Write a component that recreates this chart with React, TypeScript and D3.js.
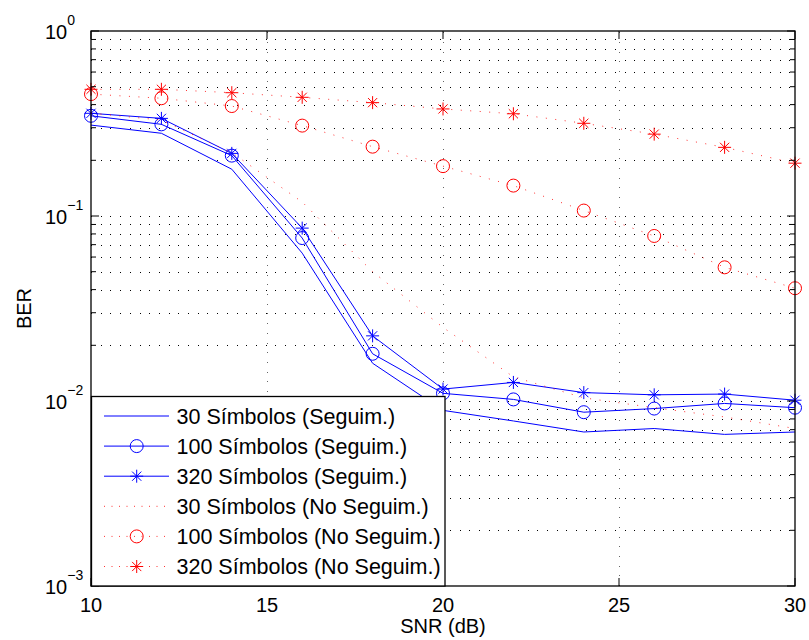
import React from "react";
import * as d3 from "d3";

const snr = [10, 12, 14, 16, 18, 20, 22, 24, 26, 28, 30];
const ber30Seg = [0.31, 0.28, 0.179, 0.063, 0.016, 0.0089, 0.0078, 0.0068, 0.0071, 0.0066, 0.0068];
const ber100Seg = [0.348, 0.313, 0.212, 0.076, 0.018, 0.011, 0.0102, 0.0087, 0.0091, 0.0097, 0.0092];
const ber320Seg = [0.359, 0.337, 0.218, 0.086, 0.0225, 0.0116, 0.0126, 0.0111, 0.0108, 0.0109, 0.0101];
const ber30No = [0.36, 0.33, 0.22, 0.119, 0.05, 0.025, 0.0135, 0.0104, 0.0092, 0.0082, 0.0071];
const ber100No = [0.456, 0.433, 0.393, 0.308, 0.237, 0.186, 0.146, 0.107, 0.078, 0.0528, 0.0407];
const ber320No = [0.484, 0.484, 0.464, 0.438, 0.41, 0.379, 0.357, 0.317, 0.277, 0.235, 0.193];

const legendLabels = [
  "30 Símbolos (Seguim.)",
  "100 Símbolos (Seguim.)",
  "320 Símbolos (Seguim.)",
  "30 Símbolos (No Seguim.)",
  "100 Símbolos (No Seguim.)",
  "320 Símbolos (No Seguim.)",
];
const xTicks = [10, 15, 20, 25, 30];
const yDecades = [-3, -2, -1, 0];

type Marker = "none" | "circle" | "star";
const seriesDefs: { data: number[]; color: string; dotted: boolean; marker: Marker }[] = [
  { data: ber30Seg, color: "#0000ff", dotted: false, marker: "none" },
  { data: ber100Seg, color: "#0000ff", dotted: false, marker: "circle" },
  { data: ber320Seg, color: "#0000ff", dotted: false, marker: "star" },
  { data: ber30No, color: "#ff0000", dotted: true, marker: "none" },
  { data: ber100No, color: "#ff0000", dotted: true, marker: "circle" },
  { data: ber320No, color: "#ff0000", dotted: true, marker: "star" },
];

const L = 91, R = 795, T = 31, B = 586;
const FONT = "'Liberation Sans', Arial, Helvetica, sans-serif";

function MarkerShape({ type, x, y, color }: { type: Marker; x: number; y: number; color: string }) {
  if (type === "circle") return <circle cx={x} cy={y} r={6.5} fill="none" stroke={color} strokeWidth={1} />;
  if (type === "star") {
    const r = 6.5, d = 4.6;
    return (
      <g stroke={color} strokeWidth={1}>
        <line x1={x - r} y1={y} x2={x + r} y2={y} />
        <line x1={x} y1={y - r} x2={x} y2={y + r} />
        <line x1={x - d} y1={y - d} x2={x + d} y2={y + d} />
        <line x1={x - d} y1={y + d} x2={x + d} y2={y - d} />
      </g>
    );
  }
  return null;
}

export default function App() {
  const x = d3.scaleLinear().domain([10, 30]).range([L, R]);
  const y = d3.scaleLog().domain([1e-3, 1]).range([B, T]);
  const line = d3.line<number>().x((_, i) => x(snr[i])).y((v) => y(v));

  const minorVals: number[] = [];
  for (const dExp of [-3, -2, -1]) for (let k = 2; k <= 9; k++) minorVals.push(k * Math.pow(10, dExp));
  const majorVals = yDecades.map((e) => Math.pow(10, e));

  const gridDash = "1 8.7";

  const legX = 91.5, legY = 396.5, legW = 353.5, legH = 189.5;
  const rowY = (i: number) => 416 + i * 30.1;

  return (
    <svg width={809} height={640} style={{ position: "absolute", left: 0, top: 0, background: "#fff" }} fontFamily={FONT}>
      <rect x={0} y={0} width={809} height={640} fill="#fff" />
      {/* grid */}
      <g stroke="#000" strokeWidth={1} strokeDasharray={gridDash} shapeRendering="crispEdges">
        {[...minorVals, ...majorVals.slice(1, 3)].map((v, i) => (
          <line key={"h" + i} x1={L} x2={R} y1={Math.round(y(v)) + 0.5} y2={Math.round(y(v)) + 0.5} />
        ))}
        {xTicks.slice(1, 4).map((t) => (
          <line key={"v" + t} x1={Math.round(x(t)) + 0.5} x2={Math.round(x(t)) + 0.5} y1={B} y2={T} strokeOpacity={0.6} />
        ))}
      </g>
      {/* data */}
      {seriesDefs.map((s, si) => (
        <g key={si}>
          <path
            d={line(s.data) || ""}
            fill="none"
            stroke={s.color}
            strokeWidth={1}
            strokeDasharray={s.dotted ? "1 8.5" : undefined}
            strokeOpacity={s.dotted ? 0.8 : 1}
          />
          {s.data.map((v, i) => (
            <MarkerShape key={i} type={s.marker} x={x(snr[i])} y={y(v)} color={s.color} />
          ))}
        </g>
      ))}
      {/* axes box */}
      <rect x={L} y={T} width={R - L} height={B - T} fill="none" stroke="#000" strokeWidth={1.3} />
      {/* ticks */}
      <g stroke="#000" strokeWidth={1}>
        {xTicks.map((t) => (
          <g key={"xt" + t}>
            <line x1={x(t)} x2={x(t)} y1={B} y2={B - 8} />
            <line x1={x(t)} x2={x(t)} y1={T} y2={T + 8} />
          </g>
        ))}
        {majorVals.map((v, i) => (
          <g key={"ym" + i}>
            <line x1={L} x2={L + 8} y1={y(v)} y2={y(v)} />
            <line x1={R} x2={R - 8} y1={y(v)} y2={y(v)} />
          </g>
        ))}
        {minorVals.map((v, i) => (
          <g key={"yn" + i}>
            <line x1={L} x2={L + 5} y1={y(v)} y2={y(v)} />
            <line x1={R} x2={R - 5} y1={y(v)} y2={y(v)} />
          </g>
        ))}
      </g>
      {/* tick labels */}
      <g fontSize={20} fill="#000">
        {xTicks.map((t) => (
          <text key={"xl" + t} x={x(t)} y={612} textAnchor="middle">
            {t}
          </text>
        ))}
        {yDecades.map((e) => (
          <text key={"yl" + e} x={45} y={y(Math.pow(10, e)) + 8}>
            10
            <tspan dy={-14} fontSize={14}>
              {e < 0 ? "\u2212" + Math.abs(e) : String(e)}
            </tspan>
          </text>
        ))}
      </g>
      <text x={(L + R) / 2} y={633} textAnchor="middle" fontSize={20}>
        SNR (dB)
      </text>
      <text transform={`translate(31,${(T + B) / 2}) rotate(-90)`} textAnchor="middle" fontSize={20}>
        BER
      </text>
      {/* legend */}
      <rect x={legX} y={legY} width={legW} height={legH} fill="#fff" stroke="#000" strokeWidth={1.3} />
      {seriesDefs.map((s, i) => (
        <g key={"lg" + i}>
          <line
            x1={104}
            x2={169}
            y1={rowY(i)}
            y2={rowY(i)}
            stroke={s.color}
            strokeWidth={1}
            strokeDasharray={s.dotted ? "1 6.5" : undefined}
            strokeOpacity={s.dotted ? 0.8 : 1}
          />
          <MarkerShape type={s.marker} x={136.7} y={rowY(i)} color={s.color} />
          <text x={176.5} y={rowY(i) + 7.5} fontSize={21.5}>
            {legendLabels[i]}
          </text>
        </g>
      ))}
    </svg>
  );
}
